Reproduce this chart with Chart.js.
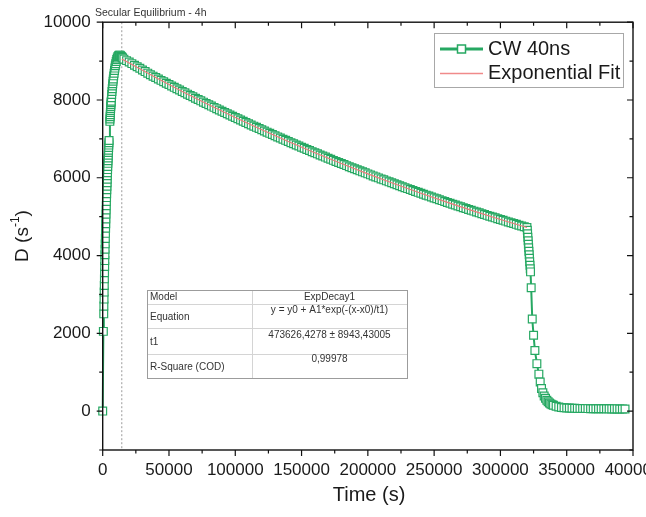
<!DOCTYPE html>
<html>
<head>
<meta charset="utf-8">
<title>CW 40ns decay</title>
<script src="https://cdn.jsdelivr.net/npm/chart.js@4.4.1/dist/chart.umd.min.js"></script>
<style>
  html, body { margin: 0; padding: 0; background: #fff; }
  #wrap { width: 646px; height: 517px; }
</style>
</head>
<body>
<div id="wrap"><canvas id="decayChart" width="646" height="517"></canvas></div>
<script>
// Measured count rate D (s^-1) vs time (s)
const riseTime = [0, 500, 800, 900, 1000, 1100, 1200, 1300, 1400, 1500, 1600, 1700, 1800, 1900, 2000,
  2100, 2200, 2300, 2400, 2500, 2600, 2700, 2800, 2900, 3000, 3100, 3200, 3300, 3400, 3500, 3600,
  3700, 3800, 3900, 4000, 4100, 4200, 4300, 4400, 4500, 4600, 4700, 4800,
  5400, 5500, 5600, 5700, 5800, 5900, 6000, 6100, 6200, 6300, 6400, 6600, 6800, 7000, 7200, 7400,
  7600, 7800, 8000, 8300, 8600, 8900, 9200, 9500, 9800, 10200, 10600, 11000, 11500, 12000, 12500,
  13000, 13500, 14000, 14500, 15000];
const riseRate = [0, 2050, 2500, 2700, 2880, 3060, 3230, 3400, 3560, 3720, 3870, 4020, 4160, 4300, 4440,
  4570, 4700, 4820, 4940, 5060, 5170, 5280, 5390, 5490, 5590, 5690, 5780, 5870, 5960, 6050, 6130,
  6210, 6290, 6370, 6440, 6510, 6580, 6650, 6710, 6780, 6840, 6900, 6960,
  7450, 7510, 7570, 7620, 7680, 7730, 7780, 7830, 7880, 7930, 7970, 8060, 8140, 8220, 8290, 8360,
  8420, 8480, 8540, 8620, 8690, 8760, 8820, 8880, 8930, 8990, 9040, 9080, 9120, 9140, 9150,
  9150, 9140, 9120, 9100, 9080];

const decayTime = [16000, 18000, 20000, 22000, 24000, 26000, 28000, 30000, 32000, 34000, 36000, 38000,
  40000, 42000, 44000, 46000, 48000, 50000, 52000, 54000, 56000, 58000, 60000, 62000, 64000, 66000,
  68000, 70000, 72000, 74000, 76000, 78000, 80000, 82000, 84000, 86000, 88000, 90000, 92000, 94000,
  96000, 98000, 100000, 102000, 104000, 106000, 108000, 110000, 112000, 114000, 116000, 118000,
  120000, 122000, 124000, 126000, 128000, 130000, 132000, 134000, 136000, 138000, 140000, 142000,
  144000, 146000, 148000, 150000, 152000, 154000, 156000, 158000, 160000, 162000, 164000, 166000,
  168000, 170000, 172000, 174000, 176000, 178000, 180000, 182000, 184000, 186000, 188000, 190000,
  192000, 194000, 196000, 198000, 200000, 202000, 204000, 206000, 208000, 210000, 212000, 214000,
  216000, 218000, 220000, 222000, 224000, 226000, 228000, 230000, 232000, 234000, 236000, 238000,
  240000, 242000, 244000, 246000, 248000, 250000, 252000, 254000, 256000, 258000, 260000, 262000,
  264000, 266000, 268000, 270000, 272000, 274000, 276000, 278000, 280000, 282000, 284000, 286000,
  288000, 290000, 292000, 294000, 296000, 298000, 300000, 302000, 304000, 306000, 308000, 310000,
  312000, 314000, 316000, 318000, 320000];
const decayRate = [9050, 9012, 8975, 8935, 8895, 8855, 8815, 8772, 8730, 8690, 8650, 8613,
  8577, 8540, 8504, 8468, 8432, 8396, 8361, 8325, 8290, 8255, 8220, 8185, 8150, 8115,
  8081, 8046, 8012, 7978, 7944, 7910, 7877, 7843, 7810, 7777, 7744, 7711, 7678, 7645,
  7613, 7581, 7549, 7517, 7485, 7453, 7421, 7389, 7358, 7327, 7296, 7265,
  7234, 7203, 7173, 7142, 7112, 7081, 7051, 7021, 6992, 6962, 6932, 6902,
  6873, 6844, 6815, 6786, 6757, 6728, 6700, 6671, 6643, 6615, 6587, 6559,
  6531, 6503, 6475, 6447, 6420, 6393, 6366, 6339, 6312, 6285, 6258, 6231,
  6205, 6178, 6152, 6126, 6100, 6074, 6048, 6022, 5997, 5971, 5946, 5920,
  5895, 5870, 5845, 5820, 5795, 5770, 5746, 5721, 5697, 5673, 5649, 5625,
  5601, 5577, 5553, 5529, 5506, 5482, 5459, 5435, 5412, 5389, 5366, 5343,
  5321, 5298, 5275, 5253, 5231, 5208, 5186, 5164, 5142, 5120, 5098, 5076,
  5055, 5033, 5012, 4990, 4969, 4948, 4927, 4906, 4885, 4864, 4843, 4822,
  4802, 4781, 4761, 4740, 4720];

const dropTime = [320300, 320500, 320700, 320900, 321100, 321300, 321500, 321700, 321900, 322100,
  322300, 322500, 322700, 323200, 324000, 325000, 326000, 327500, 329000, 330000, 331000, 332000,
  333000, 334000, 335000, 336000, 337000, 338000, 339000, 340000, 342000, 344000, 346000, 348000,
  350000, 352000, 354000, 356000, 358000, 360000, 362000, 364000, 366000, 368000, 370000, 372000,
  374000, 376000, 378000, 380000, 382000, 384000, 386000, 388000, 390000, 392000, 394000];
const dropRate = [4650, 4560, 4470, 4380, 4290, 4200, 4110, 4020, 3930, 3840,
  3750, 3660, 3580, 3170, 2370, 1950, 1560, 1220, 950, 750, 580, 470,
  390, 330, 280, 240, 210, 185, 165, 150, 125, 108, 95, 88,
  82, 78, 75, 72, 70, 68, 66, 65, 64, 62, 61, 60,
  60, 59, 59, 58, 58, 57, 57, 57, 56, 56, 56];

// ExpDecay1 fit curve
const fitTime = [14400, 20000, 40000, 60000, 80000, 100000, 120000, 140000, 160000, 180000,
  200000, 220000, 240000, 260000, 280000, 300000, 320000];
const fitRate = [9056, 8950, 8577, 8220, 7877, 7549, 7234, 6932, 6643, 6366,
  6100, 5845, 5601, 5366, 5142, 4927, 4720];

const xTickValues = [0, 50000, 100000, 150000, 200000, 250000, 300000, 350000, 400000];
const yTickValues = [0, 2000, 4000, 6000, 8000, 10000];
const equilibriumTime = 14400;

const fitTable = [
  ['Model', 'ExpDecay1'],
  ['Equation', 'y = y0 + A1*exp(-(x-x0)/t1)'],
  ['t1', '473626,4278 \u00b1 8943,43005'],
  ['R-Square (COD)', '0,99978']
];

const GREEN = '#26a862';
const PINK = '#ec7b7b';
const FONT = "'Liberation Sans', Arial, sans-serif";

function toPoints(xs, ys) {
  return xs.map((x, i) => ({ x: x, y: ys[i] }));
}

const measured = toPoints(riseTime, riseRate)
  .concat(toPoints(decayTime, decayRate))
  .concat(toPoints(dropTime, dropRate));

// Axis frame, minor/major ticks, titles, legend and the fit table
const decorations = {
  id: 'decorations',
  beforeDatasetsDraw(chart) {
    const { ctx, chartArea: a, scales: { x } } = chart;
    const px = x.getPixelForValue(equilibriumTime);
    ctx.save();
    ctx.strokeStyle = '#9a9a9a';
    ctx.lineWidth = 1;
    ctx.setLineDash([2, 2]);
    ctx.beginPath();
    ctx.moveTo(px, a.top);
    ctx.lineTo(px, a.bottom);
    ctx.stroke();
    ctx.restore();
  },
  afterDraw(chart) {
    const { ctx, chartArea: a, scales: { x, y } } = chart;
    ctx.save();

    // frame
    ctx.strokeStyle = '#111';
    ctx.lineWidth = 1.4;
    ctx.strokeRect(a.left, a.top, a.right - a.left, a.bottom - a.top);

    // ticks
    ctx.lineWidth = 1.2;
    ctx.beginPath();
    for (let v = 0; v <= 400000; v += 25000) {
      const p = x.getPixelForValue(v);
      const len = v % 50000 === 0 ? 6 : 3.5;
      ctx.moveTo(p, a.bottom); ctx.lineTo(p, a.bottom + len);
      ctx.moveTo(p, a.top); ctx.lineTo(p, a.top + len);
    }
    for (let v = -1000; v <= 10000; v += 1000) {
      const p = y.getPixelForValue(v);
      const len = v % 2000 === 0 ? 6 : 3.5;
      ctx.moveTo(a.left, p); ctx.lineTo(a.left - len, p);
      ctx.moveTo(a.right, p); ctx.lineTo(a.right - len, p);
    }
    ctx.stroke();

    // annotation
    ctx.fillStyle = '#333';
    ctx.font = '10.5px ' + FONT;
    ctx.textAlign = 'left';
    ctx.textBaseline = 'alphabetic';
    ctx.fillText('Secular Equilibrium - 4h', 95, 16);

    // axis titles
    ctx.fillStyle = '#1a1a1a';
    ctx.font = '20px ' + FONT;
    ctx.textAlign = 'center';
    ctx.textBaseline = 'middle';
    ctx.fillText('Time (s)', 369, 495);

    ctx.save();
    ctx.translate(23, 236);
    ctx.rotate(-Math.PI / 2);
    ctx.textAlign = 'left';
    const big = '19px ' + FONT, small = '12px ' + FONT;
    ctx.font = big;
    const w1 = ctx.measureText('D (s').width;
    const w3 = ctx.measureText(')').width;
    ctx.font = small;
    const w2 = ctx.measureText('-1').width;
    let cx = -(w1 + w2 + w3) / 2;
    ctx.font = big;
    ctx.fillText('D (s', cx, 0);
    cx += w1;
    ctx.font = small;
    ctx.fillText('-1', cx, -7);
    cx += w2;
    ctx.font = big;
    ctx.fillText(')', cx, 0);
    ctx.restore();

    // legend
    ctx.fillStyle = '#fff';
    ctx.fillRect(434, 33, 189, 54);
    ctx.strokeStyle = '#a8a8a8';
    ctx.lineWidth = 1;
    ctx.strokeRect(434.5, 33.5, 189, 54);
    ctx.strokeStyle = GREEN;
    ctx.lineWidth = 3;
    ctx.beginPath(); ctx.moveTo(440, 49); ctx.lineTo(483, 49); ctx.stroke();
    ctx.fillStyle = '#fff';
    ctx.lineWidth = 1.5;
    ctx.fillRect(457.5, 45, 8, 8);
    ctx.strokeRect(457.5, 45, 8, 8);
    ctx.strokeStyle = '#f08a8a';
    ctx.lineWidth = 1.3;
    ctx.beginPath(); ctx.moveTo(440, 73.5); ctx.lineTo(483, 73.5); ctx.stroke();
    ctx.fillStyle = '#1a1a1a';
    ctx.font = '20px ' + FONT;
    ctx.textAlign = 'left';
    ctx.textBaseline = 'middle';
    ctx.fillText('CW 40ns', 488, 49);
    ctx.fillText('Exponential Fit', 488, 73);

    // fit table
    const tx0 = 147, tx1 = 407, split = 252;
    const rows = [290, 304, 328, 354, 378];
    ctx.fillStyle = '#fff';
    ctx.fillRect(tx0, rows[0], tx1 - tx0, rows[4] - rows[0]);
    ctx.strokeStyle = '#d4d4d4';
    ctx.lineWidth = 1;
    ctx.beginPath();
    for (let i = 1; i < 4; i++) {
      ctx.moveTo(tx0, rows[i] + 0.5); ctx.lineTo(tx1, rows[i] + 0.5);
    }
    ctx.moveTo(split + 0.5, rows[0]); ctx.lineTo(split + 0.5, rows[4]);
    ctx.stroke();
    ctx.strokeStyle = '#9c9c9c';
    ctx.strokeRect(tx0 + 0.5, rows[0] + 0.5, tx1 - tx0, rows[4] - rows[0]);

    ctx.fillStyle = '#333';
    ctx.font = '10px ' + FONT;
    const labelY = [297, 317, 342, 367];
    const valueY = [297, 310, 335, 359];
    fitTable.forEach((r, i) => {
      ctx.textAlign = 'left';
      ctx.fillText(r[0], 150, labelY[i]);
      ctx.textAlign = 'center';
      ctx.fillText(r[1], (split + tx1) / 2, valueY[i]);
    });

    ctx.restore();
  }
};

const ctx = document.getElementById('decayChart').getContext('2d');
new Chart(ctx, {
  type: 'scatter',
  data: {
    datasets: [
      {
        label: 'CW 40ns',
        data: measured,
        showLine: true,
        borderColor: GREEN,
        borderWidth: 2,
        pointStyle: 'rect',
        pointRadius: 5.5,
        pointBorderWidth: 1.2,
        pointBorderColor: GREEN,
        pointBackgroundColor: '#fff',
        clip: false,
        order: 1
      },
      {
        label: 'Exponential Fit',
        data: toPoints(fitTime, fitRate),
        showLine: true,
        borderColor: PINK,
        borderWidth: 1.2,
        pointRadius: 0,
        order: 0
      }
    ]
  },
  options: {
    responsive: false,
    animation: false,
    layout: { padding: { left: 0, top: 20, right: 13, bottom: 0 } },
    plugins: { legend: { display: false }, tooltip: { enabled: false } },
    scales: {
      x: {
        type: 'linear',
        min: 0,
        max: 400000,
        grid: { display: false, drawTicks: false },
        border: { display: false },
        afterBuildTicks: s => { s.ticks = xTickValues.map(v => ({ value: v })); },
        afterFit: s => { s.height = 67; s.paddingLeft = 0; s.paddingRight = 0; },
        ticks: {
          color: '#1a1a1a',
          font: { family: FONT, size: 17 },
          padding: 10,
          maxRotation: 0,
          autoSkip: false,
          callback: v => String(v)
        }
      },
      y: {
        min: -1000,
        max: 10000,
        grid: { display: false, drawTicks: false },
        border: { display: false },
        afterBuildTicks: s => { s.ticks = yTickValues.map(v => ({ value: v })); },
        afterFit: s => { s.width = 102.7; },
        ticks: {
          color: '#1a1a1a',
          font: { family: FONT, size: 17 },
          padding: 12,
          callback: v => String(v)
        }
      }
    }
  },
  plugins: [decorations]
});
</script>
</body>
</html>
